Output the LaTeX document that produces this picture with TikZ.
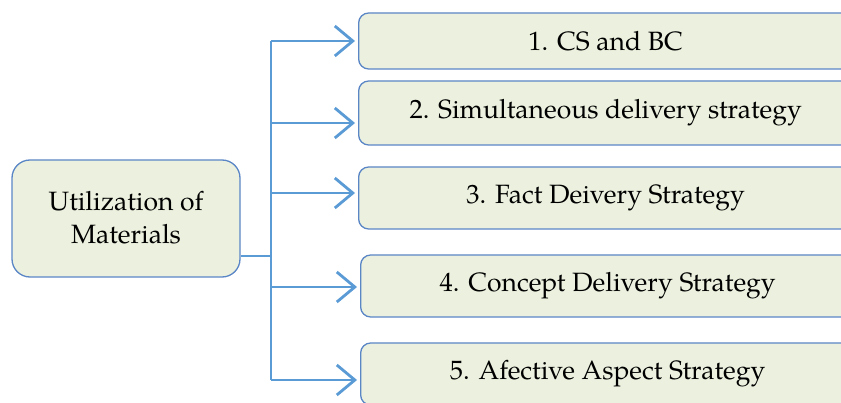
\documentclass[tikz,border=0pt]{standalone}
\usepackage{fontspec}
\setmainfont{TeX Gyre Pagella}
\usetikzlibrary{positioning, arrows.meta}

\definecolor{boxfill}{HTML}{EBF1DE}
\definecolor{boxline}{HTML}{5A86C6}
\definecolor{arrline}{HTML}{5B9BD5}

\tikzset{
    box/.style={draw=boxline, fill=boxfill, line width=1.3pt, rounded corners=10pt,
        minimum width=494pt, anchor=west, font=\fontsize{26.5}{30}\selectfont},
    arr/.style={draw=arrline, line width=2.8pt, shorten >=3pt,
        -{Straight Barb[length=18pt, width=30pt, line width=2.8pt]}},
}

\begin{document}
\begin{tikzpicture}[x=1pt, y=-1pt]
    \useasboundingbox (0,0) rectangle (841,403);
    \clip (0,0) rectangle (841,403);
    
    % Left box
    \node[draw=boxline, fill=boxfill, line width=1.3pt, rounded corners=18pt,
        minimum width=228pt, minimum height=117pt, align=center,
        font=\fontsize{26.5}{33}\selectfont] (util) at (126,218.5)
        {\raisebox{3pt}{Utilization of}\\\raisebox{3pt}{Materials}};
    
    % Strategy boxes
    \node[box, minimum height=56pt] (s1) at (358,41) {1. CS and BC};
    \node[box, minimum height=64pt] (s2) at (358,113) {2. Simultaneous delivery strategy};
    \node[box, minimum height=62pt] (s3) at (358,198) {3. Fact Deivery Strategy};
    \node[box, minimum height=62pt] (s4) at (360,286) {4. Concept Delivery Strategy};
    \node[box, minimum height=62pt] (s5) at (360,374) {5. Afective Aspect Strategy};
    
    % Trunk
    \coordinate (j1) at (271,41);
    \coordinate (j2) at (271,123);
    \coordinate (j3) at (271,193);
    \coordinate (j4) at (271,287);
    \coordinate (j5) at (271,380);
    \coordinate (jm) at (271,256);
    
    \draw[arrline, line width=1.6pt] (util.east |- jm) -- (jm);
    \draw[arrline, line width=2.8pt] (j1) -- (j5);
    
    % Arrows
    \draw[arr] (j1) -- (s1.west |- j1);
    \draw[arr] (j2) -- (s2.west |- j2);
    \draw[arr] (j3) -- (s3.west |- j3);
    \draw[arr] (j4) -- (s4.west |- j4);
    \draw[arr] (j5) -- (s5.west |- j5);
    
\end{tikzpicture}
\end{document}
